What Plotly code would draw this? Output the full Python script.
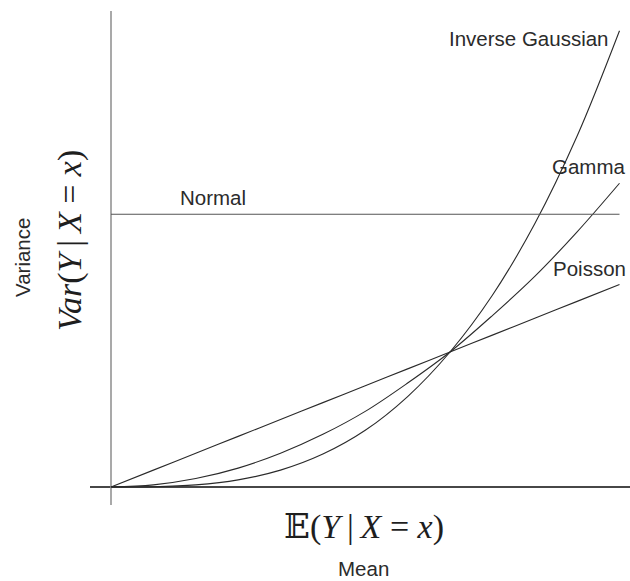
import plotly.graph_objects as go

# Mean values at which each variance function is sampled
mean = [0, 0.125, 0.25, 0.375, 0.5, 0.625, 0.75, 0.875, 1.0, 1.125, 1.25, 1.375, 1.5]

# Variance as a function of the mean for each family
var_poisson = [0, 0.125, 0.25, 0.375, 0.5, 0.625, 0.75, 0.875, 1.0, 1.125, 1.25, 1.375, 1.5]
var_gamma = [0, 0.016, 0.0625, 0.14, 0.25, 0.39, 0.56, 0.77, 1.0, 1.27, 1.56, 1.89, 2.25]
var_invgauss = [0, 0.002, 0.016, 0.053, 0.125, 0.244, 0.42, 0.67, 1.0, 1.42, 1.95, 2.60, 3.38]
normal_mean = [0, 1.5]
var_normal = [2.02, 2.02]

W, H = 630, 581
# pixel layout of the drawing
ORIGIN_X, ORIGIN_Y = 111, 487
PX_PER_X, PX_PER_Y = 339, 135

x_range = [-ORIGIN_X / PX_PER_X, (W - ORIGIN_X) / PX_PER_X]
y_range = [-(H - ORIGIN_Y) / PX_PER_Y, ORIGIN_Y / PX_PER_Y]


def px_x(p):
    return (p - ORIGIN_X) / PX_PER_X


def px_y(p):
    return (ORIGIN_Y - p) / PX_PER_Y


curve = dict(color="#2a2a2a", width=1.1)

fig = go.Figure()
fig.add_trace(go.Scatter(x=mean, y=var_poisson, mode="lines", line=dict(shape="spline", **curve)))
fig.add_trace(go.Scatter(x=mean, y=var_gamma, mode="lines", line=dict(shape="spline", **curve)))
fig.add_trace(go.Scatter(x=mean, y=var_invgauss, mode="lines", line=dict(shape="spline", **curve)))
fig.add_trace(go.Scatter(x=normal_mean, y=var_normal, mode="lines", line=dict(color="#555555", width=1.1)))

# axes drawn as plain lines crossing at the origin
shapes = [
    dict(type="line", xref="x", yref="y", x0=px_x(90), x1=px_x(630), y0=0, y1=0,
         line=dict(color="#474747", width=2), layer="below"),
    dict(type="line", xref="x", yref="y", x0=0, x1=0, y0=px_y(505), y1=px_y(11),
         line=dict(color="#8c8c8c", width=1.5), layer="below"),
]

label_font = dict(family="Liberation Sans, Arial, sans-serif", size=20.5, color="#2b2b2b")
math_font = dict(family="Liberation Serif, DejaVu Serif, serif", size=34, color="#1e1e1e")


def ann(text, x, y, font, xanchor="center", angle=0):
    return dict(text=text, xref="paper", yref="paper", x=x / W, y=1 - y / H,
                xanchor=xanchor, yanchor="middle", showarrow=False, font=font,
                textangle=angle, borderpad=0)


eq = "\u00a0=\u00a0"
annotations = [
    ann("Inverse Gaussian", 610, 38, label_font, xanchor="right"),
    ann("Gamma", 627, 166, label_font, xanchor="right"),
    ann("Poisson", 627, 268, label_font, xanchor="right"),
    ann("Normal", 179, 198, label_font, xanchor="left"),
    ann("Variance", 22, 258, label_font, angle=-90),
    ann("Mean", 364, 568, label_font),
    ann("\U0001D53C(<i>Y</i>\u2009|\u2009<i>X</i>" + eq + "<i>x</i>)", 364, 527, math_font),
    ann("<i>Var</i>(<i>Y</i>\u2009|\u2009<i>X</i>" + eq + "<i>x</i>)", 70, 241, math_font, angle=-90),
]

fig.update_layout(
    width=W, height=H,
    margin=dict(l=0, r=0, t=0, b=0),
    paper_bgcolor="white", plot_bgcolor="white",
    showlegend=False,
    xaxis=dict(range=x_range, visible=False, fixedrange=True),
    yaxis=dict(range=y_range, visible=False, fixedrange=True),
    shapes=shapes,
    annotations=annotations,
)

fig.write_html("out.html")
